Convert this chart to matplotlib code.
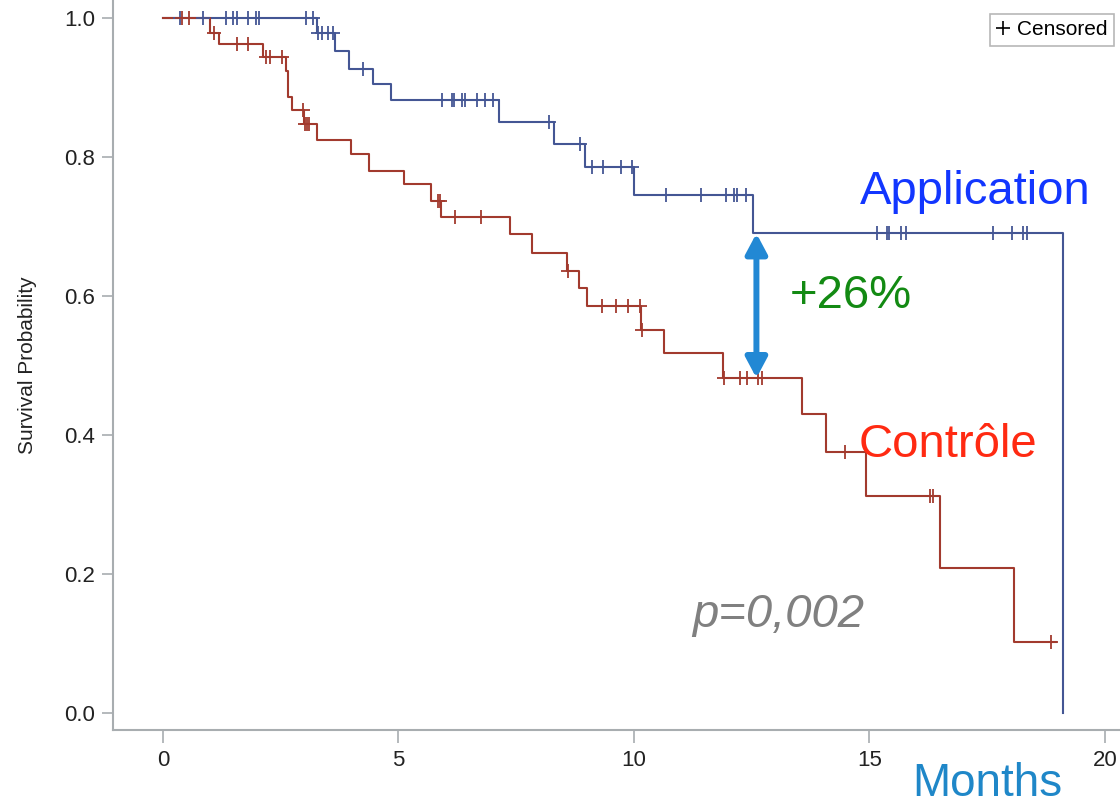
import matplotlib
matplotlib.use('Agg')

import matplotlib.pyplot as plt
from matplotlib.lines import Line2D
import numpy as np

plt.rcParams['font.family'] = ['Liberation Sans', 'DejaVu Sans']

# Kaplan-Meier steps (months, survival probability)
app_times = [0, 3.27, 3.65, 3.95, 4.46, 4.84, 7.13, 8.30, 8.96, 10.0, 12.53, 19.11]
app_surv = [1.0, 0.978, 0.953, 0.927, 0.905, 0.882, 0.850, 0.819, 0.786, 0.746, 0.690, 0.0]
app_cens = [0.36, 0.85, 1.34, 1.49, 1.57, 1.80, 1.97, 2.04, 3.04, 3.18, 3.30, 3.38, 3.50,
            3.61, 4.25, 5.92, 6.14, 6.17, 6.35, 6.41, 6.67, 6.84, 7.0, 8.20, 8.85, 9.11,
            9.34, 9.72, 9.96, 10.68, 11.42, 11.95, 12.12, 12.19, 12.38, 15.16, 15.37,
            15.41, 15.67, 15.77, 17.62, 18.03, 18.26, 18.34]

ctl_times = [0, 1.0, 1.19, 2.12, 2.61, 2.65, 2.74, 3.0, 3.26, 4.0, 4.37, 5.11, 5.68, 5.90,
             7.37, 7.83, 8.58, 8.83, 9.0, 10.15, 10.64, 11.89, 13.57, 14.08, 14.93, 16.50,
             18.07, 18.96]
ctl_surv = [1.0, 0.978, 0.962, 0.944, 0.924, 0.887, 0.867, 0.847, 0.824, 0.804, 0.780,
            0.761, 0.737, 0.714, 0.689, 0.662, 0.636, 0.611, 0.586, 0.551, 0.518, 0.482,
            0.430, 0.375, 0.312, 0.208, 0.102, 0.102]
ctl_cens = [0.40, 0.55, 1.08, 1.57, 1.80, 2.19, 2.27, 2.53, 2.98, 3.01, 3.06, 3.10, 5.84,
            5.88, 6.20, 6.75, 8.60, 9.32, 9.62, 9.87, 10.12, 10.17, 11.91, 12.25, 12.40,
            12.63, 12.72, 14.48, 16.28, 16.35, 18.85]

xticks = [0, 5, 10, 15, 20]
yticks = [0.0, 0.2, 0.4, 0.6, 0.8, 1.0]

gap_at = 12.6
blue = '#445694'
red = '#a23a2e'


def level_at(times, surv, t):
    i = np.searchsorted(times, t, side='right') - 1
    return np.array(surv)[i]


fig = plt.figure(figsize=(11.2, 8.07), dpi=100)
ax = fig.add_axes([113 / 1120, 1 - 730 / 807, 1 - 113 / 1120, 730 / 807])

ax.step(app_times, app_surv, where='post', color=blue, lw=1.5)
ax.step(ctl_times, ctl_surv, where='post', color=red, lw=1.5)
ax.plot(app_cens, level_at(app_times, app_surv, app_cens), ls='none', marker='+',
        ms=10.5, mew=1.3, color=blue)
ax.plot(ctl_cens, level_at(ctl_times, ctl_surv, ctl_cens), ls='none', marker='+',
        ms=10.5, mew=1.3, color=red)

ax.set_xlim(-1.062, 20.32)
ax.set_ylim(-0.0245, 1.0259)
ax.set_xticks(xticks)
ax.set_yticks(yticks)
ax.set_yticklabels(['%.1f' % v for v in yticks])

for s in ['top', 'right']:
    ax.spines[s].set_visible(False)
for s in ['left', 'bottom']:
    ax.spines[s].set_color('#a8adb0')
    ax.spines[s].set_linewidth(1.5)

ax.tick_params(axis='x', length=9.5, width=1.2, color='#a8adb0', pad=5, labelcolor='#222222')
ax.tick_params(axis='y', length=8, width=1.2, color='#a8adb0', pad=5, labelcolor='#222222')
for lab in ax.get_xticklabels() + ax.get_yticklabels():
    lab.set_fontsize(16)

ax.set_ylabel('Survival Probability', fontsize=15, color='#222222')
ax.yaxis.set_label_coords(-0.075, 0.5)

# gap between the curves
top = level_at(app_times, app_surv, gap_at)
bot = level_at(ctl_times, ctl_surv, gap_at)
ax.annotate('', xy=(gap_at, bot), xytext=(gap_at, top),
            arrowprops=dict(arrowstyle='<|-|>,head_length=0.6,head_width=0.32',
                            color='#2288d4', lw=4.3, shrinkA=0, shrinkB=0,
                            mutation_scale=20))

ax.text(14.8, 0.732, 'Application', fontsize=34, color='#1236ff', va='baseline')
ax.text(13.3, 0.583, '+26%', fontsize=34, color='#138a13', va='baseline')
ax.text(14.76, 0.368, 'Contrôle', fontsize=34, color='#ff2a12', va='baseline')
ax.text(11.23, 0.124, 'p=0,002', fontsize=34, color='#808080', style='italic', va='baseline')
fig.text(912 / 1120, 1 - 796 / 807, 'Months', fontsize=33, color='#1f87c8', va='baseline')

handle = Line2D([], [], ls='none', marker='+', ms=10, mew=1.2, color='black')
leg = ax.legend([handle], ['Censored'], loc='upper right',
                bbox_to_anchor=(1114 / 1120, 1 - 14 / 807), bbox_transform=fig.transFigure,
                fontsize=15, handlelength=0.6, handletextpad=0.4, borderpad=0.3,
                fancybox=False, edgecolor='#b8b8b8', framealpha=1, borderaxespad=0)
leg.get_frame().set_linewidth(1.2)

fig.savefig('out.png', dpi=100)
